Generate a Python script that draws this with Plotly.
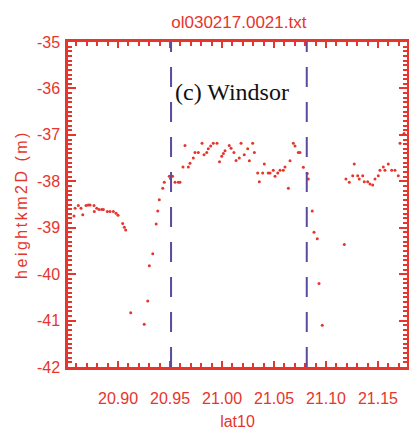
import plotly.graph_objects as go

# Latitude (lat10) and 2-D height (heightkm2D) samples along the track
lat10 = [
    20.8577, 20.8587, 20.8618, 20.8644, 20.8661, 20.8692, 20.8714, 20.8731,
    20.8769, 20.8772, 20.8795, 20.8817, 20.8843, 20.8859, 20.8897, 20.8923,
    20.8955, 20.8981, 20.9000, 20.9045, 20.9061, 20.9074,
    20.9122, 20.9252, 20.9286, 20.9301, 20.9334, 20.9367, 20.9382, 20.9397,
    20.9430, 20.9445, 20.9493, 20.9505, 20.9524, 20.9548, 20.9580, 20.9596,
    20.9625, 20.9644, 20.9676, 20.9692, 20.9724, 20.9740, 20.9772, 20.9808,
    20.9827, 20.9853, 20.9868, 20.9891, 20.9916, 20.9952, 20.9976, 20.9997,
    21.0013, 21.0029, 21.0070, 21.0087, 21.0115, 21.0135, 21.0166, 21.0183,
    21.0214, 21.0247, 21.0263, 21.0295, 21.0311, 21.0343, 21.0359, 21.0391,
    21.0407, 21.0445, 21.0462, 21.0493, 21.0510, 21.0536, 21.0558, 21.0589,
    21.0606, 21.0638, 21.0654, 21.0686, 21.0702, 21.0734, 21.0750, 21.0782,
    21.0820, 21.0830,
    21.0868, 21.0885, 21.0916, 21.0933, 21.0964,
    21.1176, 21.1192, 21.1224, 21.1257, 21.1272, 21.1305, 21.1320, 21.1353,
    21.1368, 21.1401, 21.1423, 21.1449, 21.1471, 21.1503, 21.1519, 21.1551,
    21.1567, 21.1599, 21.1632, 21.1663, 21.1695, 21.1712, 21.1750,
]
height_km2d = [
    -38.75, -38.58, -38.52, -38.58, -38.72, -38.52, -38.51, -38.51,
    -38.52, -38.65, -38.58, -38.61, -38.61, -38.61, -38.65, -38.65,
    -38.65, -38.69, -38.73, -38.91, -38.99, -39.05,
    -40.83, -41.08, -40.58, -39.82, -39.56, -38.92, -38.64, -38.40,
    -38.15, -38.02, -37.89, -37.94, -37.89, -38.02, -38.02, -38.02,
    -37.69, -37.23, -37.69, -37.61, -37.50, -37.38, -37.38, -37.18,
    -37.43, -37.38, -37.30, -37.24, -37.18, -37.18, -37.58, -37.46,
    -37.40, -37.34, -37.23, -37.29, -37.38, -37.55, -37.50, -37.18,
    -37.43, -37.30, -37.56, -37.18, -37.38, -37.82, -38.01, -37.82,
    -37.63, -37.82, -37.82, -37.76, -37.89, -37.82, -37.76, -37.76,
    -37.69, -38.15, -37.56, -37.18, -37.24, -37.38, -37.38, -37.70,
    -37.83, -37.95,
    -38.64, -39.10, -39.24, -40.20, -41.10,
    -39.36, -37.95, -38.02, -37.88, -37.63, -37.88, -37.95, -37.88,
    -38.01, -38.01, -38.06, -38.08, -37.95, -37.88, -37.76, -37.69,
    -37.76, -37.63, -37.76, -37.76, -37.88, -37.18, -36.97,
]

# Latitudes bounding the Windsor crossing
window_lat = [20.951, 21.0815]

x_range = [20.8519, 21.1779]
y_range = [-42, -35]
x_ticks = [20.90, 20.95, 21.00, 21.05, 21.10, 21.15]
x_ticklabels = ["20.90", "20.95", "21.00", "21.05", "21.10", "21.15"]
y_ticks = [-42, -41, -40, -39, -38, -37, -36, -35]
y_ticklabels = ["-42", "-41", "-40", "-39", "-38", "-37", "-36", "-35"]

RED = "#e6352c"
PURPLE = "#5b4a9e"
LABEL_FONT = dict(family="Liberation Sans, Arial, sans-serif", size=16, color=RED)

fig = go.Figure()
fig.add_trace(go.Scatter(
    x=lat10, y=height_km2d, mode="markers",
    marker=dict(size=3, color=RED, line=dict(width=0)),
    showlegend=False, hoverinfo="skip",
))

for lat in window_lat:
    fig.add_shape(
        type="line", xref="x", yref="y",
        x0=lat, x1=lat, y0=y_range[0], y1=y_range[1],
        line=dict(color=PURPLE, width=2, dash="20px,15px"),
        layer="above",
    )

fig.add_annotation(
    text="(c) Windsor", xref="paper", yref="paper",
    x=0.484, y=0.892, showarrow=False,
    font=dict(family="Liberation Serif, Times New Roman, serif", size=24, color="#111111"),
)

axis_common = dict(
    showline=True, linecolor=RED, linewidth=2.5, mirror="allticks",
    ticks="inside", tickcolor=RED, tickwidth=1.5,
    showgrid=False, zeroline=False, tickfont=LABEL_FONT,
)

fig.update_xaxes(
    **axis_common, range=x_range, tickmode="array",
    tickvals=x_ticks, ticktext=x_ticklabels, ticklen=6,
    minor=dict(dtick=0.01, tick0=20.90, ticklen=4, ticks="inside", tickcolor=RED, tickwidth=1.5),
    ticklabelstandoff=15,
    title=dict(text="lat10", font=LABEL_FONT, standoff=10),
)
fig.update_yaxes(
    **axis_common, range=y_range, tickmode="array",
    tickvals=y_ticks, ticktext=y_ticklabels, ticklen=8,
    minor=dict(dtick=0.1, tick0=-42, ticklen=4, ticks="inside", tickcolor=RED, tickwidth=1.5),
    ticklabelstandoff=2,
    title=dict(text='<span style="letter-spacing:2.5px">heightkm2D (m)</span>',
               font=LABEL_FONT, standoff=6),
)

fig.update_layout(
    width=409, height=433,
    margin=dict(l=68, r=2, t=42, b=66, autoexpand=False),
    paper_bgcolor="white", plot_bgcolor="white",
    title=dict(text="ol030217.0021.txt", x=0.504, xref="paper",
               y=1 - 22 / 433, yref="container", yanchor="middle", xanchor="center",
               font=dict(family="Liberation Sans, Arial, sans-serif", size=17, color=RED)),
)

fig.write_html("out.html")
